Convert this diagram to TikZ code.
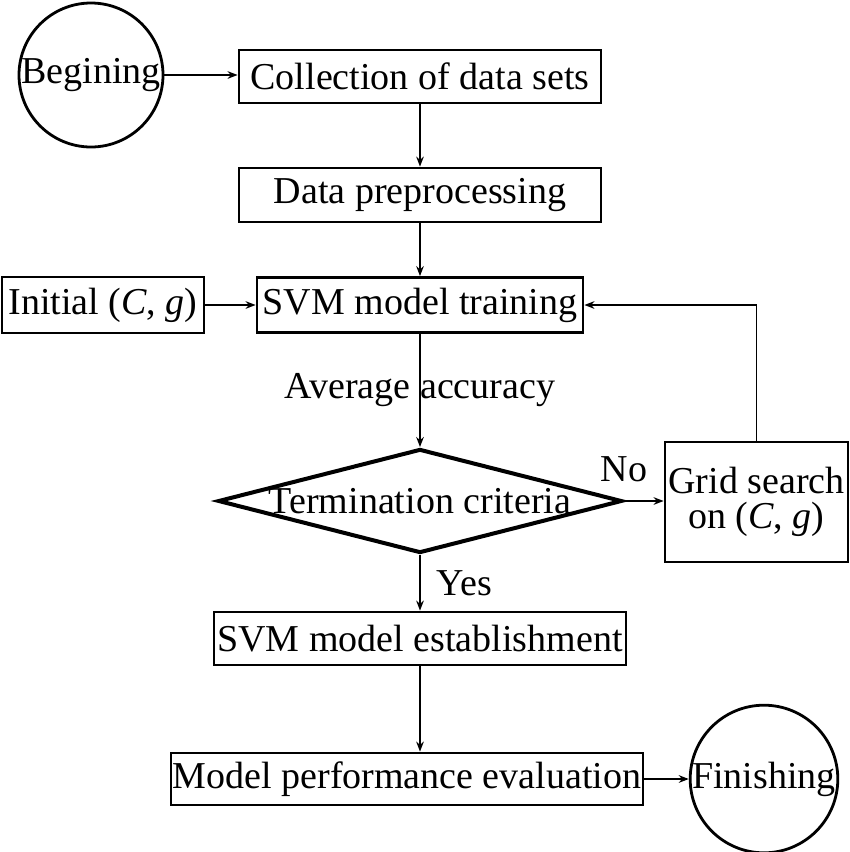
\documentclass[tikz,border=0pt]{standalone}
\usepackage{fontspec}
\setmainfont{Liberation Serif}
\usetikzlibrary{shapes.geometric,arrows.meta}

\begin{document}
\begin{tikzpicture}[
    x=0.5pt, y=-0.5pt,
    font=\fontsize{19}{17.5}\selectfont,
    box/.style={rectangle, draw, line width=1.4pt, inner sep=0pt, align=center},
    term/.style={circle, draw, line width=1.4pt, inner sep=0pt, minimum size=72pt},
    decision/.style={diamond, draw, line width=2pt, inner sep=0pt, aspect=3.9, minimum width=202pt, minimum height=52pt},
    arrow/.style={->, >={Stealth[length=5pt,width=3.8pt]}, line width=0.85pt},
    lbl/.style={inner sep=0pt}
]
\useasboundingbox (0,0) rectangle (850,852);

% Start and data preparation
\node[term] (begin) at (91,75) {Begining};
\node[box, minimum width=181pt, minimum height=26.5pt] (collect) at (420,76.5) {Collection of data sets};
\node[box, minimum width=181pt, minimum height=27pt] (prep) at (420,195) {Data preprocessing};

% Training and parameter search
\node[box, minimum width=101pt, minimum height=28pt] (init) at (103,305) {Initial (\textit{C}, \textit{g})};
\node[box, minimum width=163pt, minimum height=27.5pt] (train) at (420,305) {SVM model training};
\node[decision] (crit) at (420,501) {Termination criteria};
\node[box, minimum width=91.5pt, minimum height=60pt] (grid) at (756.5,502) {Grid search\\on (\textit{C}, \textit{g})};

% Final model
\node[box, minimum width=206pt, minimum height=26.5pt] (estab) at (420,638.5) {SVM model establishment};
\node[box, minimum width=236pt, minimum height=26pt] (eval) at (407,779) {Model performance evaluation};
\node[term, minimum size=73pt] (finish) at (764,779) {Finishing};

% Arrows - main flow
\draw[arrow] (begin.east) -- (begin.east -| collect.west);
\draw[arrow] (collect) -- (prep);
\draw[arrow] (prep) -- (train);
\draw[arrow] (init) -- (train);
\draw[arrow] (train) -- node[lbl]{Average accuracy} (crit);
\draw[arrow] (crit) -- node[lbl, right=8pt]{Yes} (estab);
\draw[arrow] (estab.south) -- (estab.south |- eval.north);
\draw[arrow] (eval) -- (finish);

% Arrows - search loop
\draw[arrow] (crit.east) -- node[lbl, pos=0, above=9pt]{No} (crit.east -| grid.west);
\draw[arrow] (grid.north) |- (train.east);

\end{tikzpicture}
\end{document}
